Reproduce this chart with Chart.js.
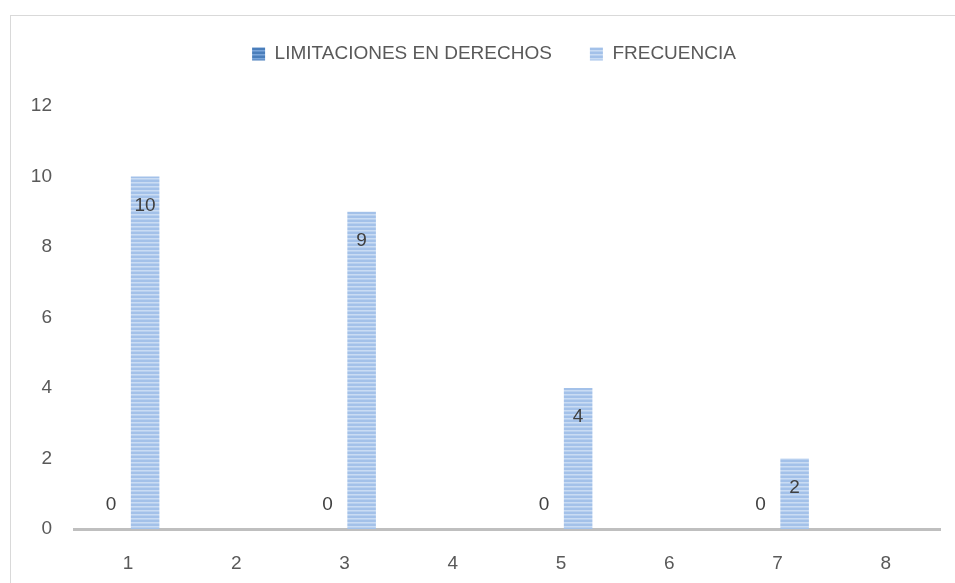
<!DOCTYPE html>
<html>
<head>
<meta charset="utf-8">
<script src="https://cdn.jsdelivr.net/npm/chart.js@4.4.1/dist/chart.umd.min.js"></script>
<style>
  html, body { margin: 0; padding: 0; background: #ffffff; }
  #wrap { position: relative; width: 955px; height: 583px; }
</style>
</head>
<body>
<div id="wrap"><canvas id="freq_chart" width="955" height="583"></canvas></div>
<script>
// Limitaciones en derechos - frecuencia

const categories = ['1', '2', '3', '4', '5', '6', '7', '8'];
const limitaciones = [0, null, 0, null, 0, null, 0, null];
const frecuencia = [10, null, 9, null, 4, null, 2, null];
const seriesNames = ['LIMITACIONES EN DERECHOS', 'FRECUENCIA'];
const yMax = 12;
const yStep = 2;

const ctx = document.getElementById('freq_chart').getContext('2d');
const fontFamily = '"Liberation Sans", Arial, sans-serif';

// striped fill like the excel pattern
function stripes(rows) {
    let c = document.createElement('canvas');
    c.width = 4;
    c.height = rows.length;
    let g = c.getContext('2d');
    for (let i = 0; i < rows.length; i++) {
        g.fillStyle = rows[i];
        g.fillRect(0, i, 4, 1);
    }
    return ctx.createPattern(c, 'repeat');
}

const darkStripes = stripes(['#4a7ebb', '#4a7ebb', '#7ba6da', '#6593cc']);
const lightStripes = stripes(['#a3c1e9', '#a3c1e9', '#cadcf3', '#b8d0ef']);

// frame around the chart
const framePlugin = {
    id: 'frame',
    beforeDraw(chart) {
        const c = chart.ctx;
        c.save();
        c.strokeStyle = '#d9d9d9';
        c.lineWidth = 1;
        c.strokeRect(10.5, 15.5, 980, 600);
        c.restore();
    }
};

// value labels, like excel's data labels
const labelPlugin = {
    id: 'valueLabels',
    afterDatasetsDraw(chart) {
        const c = chart.ctx;
        c.save();
        c.font = '19px ' + fontFamily;
        c.fillStyle = '#404040';
        c.textAlign = 'center';
        c.textBaseline = 'middle';
        chart.data.datasets.forEach((ds, di) => {
            const meta = chart.getDatasetMeta(di);
            meta.data.forEach((bar, i) => {
                const v = ds.data[i];
                if (v === null || v === undefined) return;
                if (v === 0) {
                    c.fillText(String(v), bar.x, bar.base - 24);
                } else {
                    c.fillText(String(v), bar.x, bar.y + 29);
                }
            });
        });
        c.restore();
    }
};

// fix legend height (so plot area starts where the reference does) and nudge it right
const legendPlugin = {
    id: 'legendTweak',
    afterInit(chart) {
        const lg = chart.legend;
        if (!lg) return;
        const f = lg.fit;
        lg.fit = function () {
            f.call(this);
            this.height = 99.5;
        };
        const d = lg.draw;
        lg.draw = function () {
            this.ctx.save();
            this.ctx.translate(24, 0);
            d.call(this);
            this.ctx.restore();
        };
    }
};

let freq_chart = new Chart(ctx, {
    type: 'bar',
    data: {
        labels: categories,
        datasets: [
            {
                label: seriesNames[0],
                data: limitaciones,
                backgroundColor: darkStripes,
                borderWidth: 0,
                categoryPercentage: 0.628,
                barPercentage: 0.84,
            },
            {
                label: seriesNames[1],
                data: frecuencia,
                backgroundColor: lightStripes,
                borderWidth: 0,
                categoryPercentage: 0.628,
                barPercentage: 0.84,
            }
        ]
    },
    options: {
        responsive: false,
        animation: false,
        layout: {
            padding: { top: 6.5, right: 15, bottom: 0, left: 0 }
        },
        scales: {
            x: {
                grid: { display: false, drawTicks: false },
                border: { display: true, color: '#bfbfbf', width: 3 },
                ticks: {
                    color: '#595959',
                    font: { family: fontFamily, size: 19 },
                    padding: 23,
                },
                afterFit(scale) { scale.height = 54; }
            },
            y: {
                min: 0,
                max: yMax,
                grid: { display: false, drawTicks: false },
                border: { display: false },
                ticks: {
                    stepSize: yStep,
                    color: '#595959',
                    font: { family: fontFamily, size: 19 },
                    padding: 22,
                },
                afterFit(scale) { scale.width = 74; }
            }
        },
        plugins: {
            legend: {
                display: true,
                position: 'top',
                labels: {
                    boxWidth: 13,
                    boxHeight: 13,
                    padding: 38,
                    color: '#595959',
                    font: { family: fontFamily, size: 19 },
                }
            },
            tooltip: { enabled: false },
            title: { display: false }
        }
    },
    plugins: [framePlugin, labelPlugin, legendPlugin]
});
</script>
</body>
</html>
